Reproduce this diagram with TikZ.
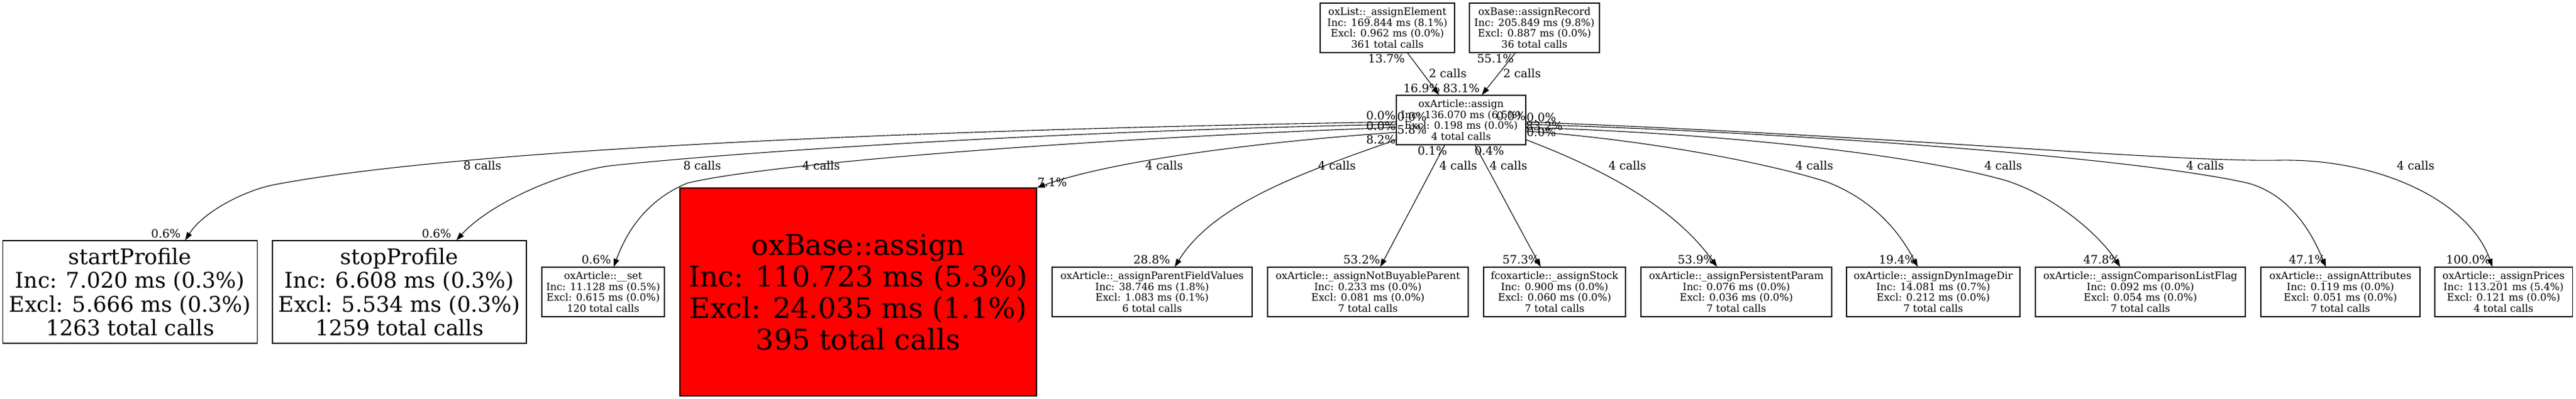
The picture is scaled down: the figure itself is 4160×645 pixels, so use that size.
\documentclass[tikz,border=0pt]{standalone}
\usepackage{fontspec}
\setmainfont{DejaVu Serif}
\usetikzlibrary{arrows.meta}
\begin{document}
\begin{tikzpicture}[x=1pt,y=-1pt,
  fn/.style={draw=black, line width=1.1pt, fill=white, inner sep=0pt, align=center, font=\fontsize{16.3}{17.5}\selectfont, minimum height=80pt},
  bigfn/.style={fn, font=\fontsize{34.8}{38.5}\selectfont, minimum height=166pt},
  hotfn/.style={fn, fill=red, font=\fontsize{46}{51}\selectfont, minimum height=336pt},
  lbl/.style={inner sep=0pt, font=\fontsize{18.7}{20}\selectfont},
  call/.style={draw=black, line width=1.1pt, -{Triangle[length=13pt,width=9pt]}}
]
\fill[white] (0,0) rectangle (4160,645);
\useasboundingbox (0,0) rectangle (4160,645);
% nodes
\node[fn, minimum width=217pt] (ol) at (2240.5,45) {oxList::\_assignElement\\Inc: 169.844 ms (8.1\%)\\Excl: 0.962 ms (0.0\%)\\361 total calls};
\node[fn, minimum width=210pt] (ar) at (2478,45) {oxBase::assignRecord\\Inc: 205.849 ms (9.8\%)\\Excl: 0.887 ms (0.0\%)\\36 total calls};
\node[fn, minimum width=209pt] (c) at (2359.5,194) {oxArticle::assign\\Inc: 136.070 ms (6.5\%)\\Excl: 0.198 ms (0.0\%)\\4 total calls};
\node[bigfn, minimum width=411pt] (sp) at (210,472) {startProfile\\Inc: 7.020 ms (0.3\%)\\Excl: 5.666 ms (0.3\%)\\1263 total calls};
\node[bigfn, minimum width=410pt] (tp) at (645,472) {stopProfile\\Inc: 6.608 ms (0.3\%)\\Excl: 5.534 ms (0.3\%)\\1259 total calls};
\node[fn, minimum width=198pt] (st) at (974,472) {oxArticle::\_\_set\\Inc: 11.128 ms (0.5\%)\\Excl: 0.615 ms (0.0\%)\\120 total calls};
\node[hotfn, minimum width=576pt] (ba) at (1386,472) {oxBase::assign\\Inc: 110.723 ms (5.3\%)\\Excl: 24.035 ms (1.1\%)\\395 total calls};
\node[fn, minimum width=323pt] (pf) at (1860.5,472) {oxArticle::\_assignParentFieldValues\\Inc: 38.746 ms (1.8\%)\\Excl: 1.083 ms (0.1\%)\\6 total calls};
\node[fn, minimum width=324pt] (nb) at (2209,472) {oxArticle::\_assignNotBuyableParent\\Inc: 0.233 ms (0.0\%)\\Excl: 0.081 ms (0.0\%)\\7 total calls};
\node[fn, minimum width=229pt] (sk) at (2510.5,472) {fcoxarticle::\_assignStock\\Inc: 0.900 ms (0.0\%)\\Excl: 0.060 ms (0.0\%)\\7 total calls};
\node[fn, minimum width=308pt] (pp) at (2804,472) {oxArticle::\_assignPersistentParam\\Inc: 0.076 ms (0.0\%)\\Excl: 0.036 ms (0.0\%)\\7 total calls};
\node[fn, minimum width=280pt] (di) at (3122,472) {oxArticle::\_assignDynImageDir\\Inc: 14.081 ms (0.7\%)\\Excl: 0.212 ms (0.0\%)\\7 total calls};
\node[fn, minimum width=339pt] (cl) at (3456.5,472) {oxArticle::\_assignComparisonListFlag\\Inc: 0.092 ms (0.0\%)\\Excl: 0.054 ms (0.0\%)\\7 total calls};
\node[fn, minimum width=257pt] (at) at (3779.5,472) {oxArticle::\_assignAttributes\\Inc: 0.119 ms (0.0\%)\\Excl: 0.051 ms (0.0\%)\\7 total calls};
\node[fn, minimum width=222pt] (pr) at (4043,472) {oxArticle::\_assignPrices\\Inc: 113.201 ms (5.4\%)\\Excl: 0.121 ms (0.0\%)\\4 total calls};
% edges
\draw[call] (ol.south -| 2273,0) -- (c.north -| 2324,0);
\draw[call] (ar.south -| 2447,0) -- (c.north -| 2393,0);
\draw[call] (c.west |- 0,197) .. controls (1300,213) and (700,250) .. (446,298) .. controls (400,306) and (330,340) .. (sp.north -| 299,0);
\draw[call] (c.west |- 0,201) .. controls (1700,212) and (1200,245) .. (985,268) .. controls (900,280) and (790,330) .. (tp.north -| 737,0);
\draw[call] (c.west |- 0,206) .. controls (1800,222) and (1250,262) .. (1110,296) .. controls (1040,325) and (1010,380) .. (st.north -| 991,0);
\draw[call] (c.west |- 0,214) .. controls (2050,228) and (1800,258) .. (ba.north east);
\draw[call] (c.west |- 0,226) .. controls (2100,280) and (1960,330) .. (pf.north -| 1897,0);
\draw[call] (c.south -| 2333,0) -- (nb.north -| 2229,0);
\draw[call] (c.south -| 2382,0) -- (sk.north -| 2488,0);
\draw[call] (c.east |- 0,226) .. controls (2580,270) and (2700,330) .. (pp.north -| 2773,0);
\draw[call] (c.east |- 0,212) .. controls (2650,225) and (2850,262) .. (2950,294) .. controls (3030,325) and (3070,380) .. (di.north -| 3097,0);
\draw[call] (c.east |- 0,206) .. controls (2800,216) and (3100,252) .. (3240,292) .. controls (3320,318) and (3390,380) .. (cl.north -| 3424,0);
\draw[call] (c.east |- 0,201) .. controls (2900,214) and (3450,255) .. (3630,296) .. controls (3700,315) and (3735,380) .. (at.north -| 3756,0);
\draw[call] (c.east |- 0,197) .. controls (3100,222) and (3500,262) .. (3680,259) .. controls (3850,256) and (3990,330) .. (pr.north -| 4025,0);
% edge labels
\node[lbl] (t1) at (2239,95) {13.7\%};
\node[lbl] (t2) at (2415,95) {55.1\%};
\node[lbl] (m1) at (2338,119) {2 calls};
\node[lbl] (m2) at (2458,119) {2 calls};
\node[lbl] (h1) at (2296,143) {16.9\%};
\node[lbl] (h2) at (2360,143) {83.1\%};
\node[lbl] (a1) at (2230,187) {0.0\%};
\node[lbl] (a2) at (2280,189) {0.0\%};
\node[lbl] (a3) at (2230,204) {0.0\%};
\node[lbl] (a4) at (2280,210) {5.8\%};
\node[lbl] (a5) at (2230,226) {8.2\%};
\node[lbl] (a6) at (2440,188) {0.0\%};
\node[lbl] (a7) at (2489,190) {0.0\%};
\node[lbl] (a8) at (2494,204) {83.2\%};
\node[lbl] (a9) at (2489,214) {0.0\%};
\node[lbl] (a10) at (2313,244) {0.1\%};
\node[lbl] (a11) at (2405,244) {0.4\%};
\node[lbl] (n1) at (779,268) {8 calls};
\node[lbl] (n2) at (1134,268) {8 calls};
\node[lbl] (n3) at (1326,268) {4 calls};
\node[lbl] (n4) at (1880,268) {4 calls};
\node[lbl] (n5) at (2159,268) {4 calls};
\node[lbl] (n6) at (2355,268) {4 calls};
\node[lbl] (n7) at (2436,268) {4 calls};
\node[lbl] (n8) at (2628,268) {4 calls};
\node[lbl] (n9) at (2930,268) {4 calls};
\node[lbl] (n10) at (3235,268) {4 calls};
\node[lbl] (n11) at (3561,268) {4 calls};
\node[lbl] (n12) at (3901,268) {4 calls};
\node[lbl] (p1) at (268,378) {0.6\%};
\node[lbl] (p2) at (705,378) {0.6\%};
\node[lbl] (p3) at (963,420) {0.6\%};
\node[lbl] (p4) at (1699,295) {7.1\%};
\node[lbl] (p5) at (1860,420) {28.8\%};
\node[lbl] (p6) at (2199,420) {53.2\%};
\node[lbl] (p7) at (2456,420) {57.3\%};
\node[lbl] (p8) at (2739,420) {53.9\%};
\node[lbl] (p9) at (3064,420) {19.4\%};
\node[lbl] (p10) at (3394,420) {47.8\%};
\node[lbl] (p11) at (3726,420) {47.1\%};
\node[lbl] (p12) at (3986,420) {100.0\%};
\end{tikzpicture}
\end{document}
